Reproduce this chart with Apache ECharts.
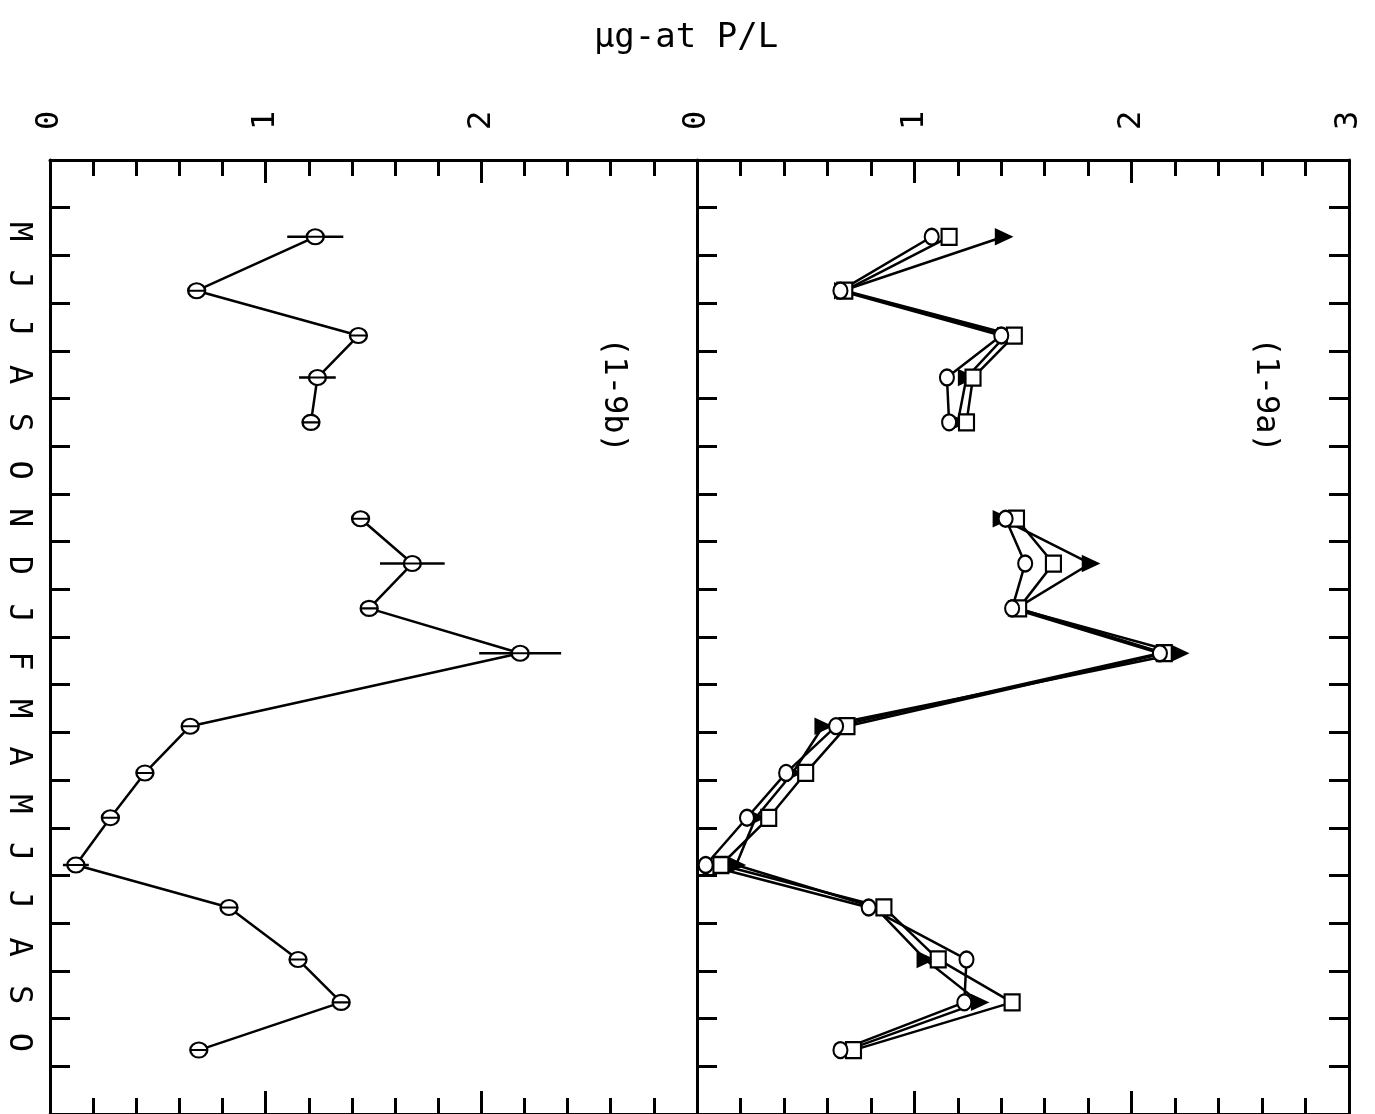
<!DOCTYPE html>
<html>
<head>
<meta charset="utf-8">
<script src="https://cdn.jsdelivr.net/npm/echarts@6/dist/echarts.min.js"></script>
<style>
  html, body { margin: 0; padding: 0; background: #fff; }
  #main { width: 1375px; height: 1114px; }
</style>
</head>
<body>
<div id="main"></div>
<script>
// month slots down the axis (blank slot at each end)
var monthLabels = ['', 'M', 'J', 'J', 'A', 'S', 'O', 'N', 'D', 'J', 'F', 'M', 'A', 'M', 'J', 'J', 'A', 'S', 'O', ''];
// sampling dates, in month slots from the top edge (null = no sample)
var sampleTime = [1.61, 2.74, 3.68, 4.56, 5.50, null, 7.52, 8.46, 9.40, 10.34, 11.87, 12.85, 13.79, 14.78, 15.67, 16.76, 17.66, 18.66];

// (1-9b) mean with error bar half-width
var meanB  = [1.23, 0.68, 1.43, 1.24, 1.21, null, 1.44, 1.68, 1.48, 2.18, 0.65, 0.44, 0.28, 0.12, 0.83, 1.15, 1.35, 0.69];
var errorB = [0.13, 0, 0, 0.085, 0, null, 0, 0.15, 0, 0.19, 0, 0, 0, 0.06, 0, 0, 0, 0];

// (1-9a) three stations
var circleA   = [1.08, 0.66, 1.40, 1.15, 1.16, null, 1.42, 1.51, 1.45, 2.13, 0.64, 0.41, 0.23, 0.04, 0.79, 1.24, 1.23, 0.66];
var squareA   = [1.16, 0.68, 1.46, 1.27, 1.24, null, 1.47, 1.64, 1.48, 2.15, 0.69, 0.50, 0.33, 0.11, 0.86, 1.11, 1.45, 0.72];
var triangleA = [1.41, 0.67, 1.42, 1.24, 1.20, null, 1.40, 1.81, 1.47, 2.22, 0.58, 0.44, 0.27, 0.18, 0.82, 1.05, 1.30, 0.69];

var FONT = 'DejaVu Sans Mono';
var chartDom = document.getElementById('main');
var myChart = echarts.init(chartDom, null, { renderer: 'canvas' });

function pairs(vals) {
    return vals.map(function (v, i) {
        return v == null ? ['-', '-'] : [v, sampleTime[i]];
    });
}

var thetaPath = 'path://M0,9A10,9 0 1,0 20,9A10,9 0 1,0 0,9ZM0,9L20,9';

function valueAxis(grid, pos, showLabel, hideMax) {
    return {
        gridIndex: grid, type: 'value', min: 0, max: 3, interval: 1, position: pos,
        axisLine: { show: true, onZero: false, lineStyle: { color: '#000', width: 3 } },
        axisTick: { show: true, inside: true, length: 23, lineStyle: { color: '#000', width: 3 } },
        minorTick: { show: true, splitNumber: 5, length: 16, lineStyle: { color: '#000', width: 3 } },
        splitLine: { show: false },
        axisLabel: {
            show: showLabel, rotate: -90, margin: 30, fontSize: 32, fontFamily: FONT, color: '#000',
            formatter: function (v) { return (hideMax && v === 3) ? '' : String(v); }
        }
    };
}

function timeAxis(grid, pos) {
    return {
        gridIndex: grid, type: 'value', inverse: true, min: 0, max: 20, interval: 1, position: pos,
        axisLine: { show: true, onZero: false, lineStyle: { color: '#000', width: 3 } },
        axisTick: { show: true, inside: true, length: 20, lineStyle: { color: '#000', width: 3 } },
        splitLine: { show: false },
        axisLabel: { show: false }
    };
}

function lineSeries(name, vals, xi, yi, symbol, size, fill, rotate) {
    return {
        name: name, type: 'line', xAxisIndex: xi, yAxisIndex: yi,
        data: pairs(vals),
        symbol: symbol, symbolSize: size, symbolRotate: rotate || 0,
        showAllSymbol: true,
        lineStyle: { color: '#000', width: 2.5 },
        itemStyle: { color: fill, borderColor: '#000', borderWidth: 2.2 },
        z: 3
    };
}

var errData = [];
meanB.forEach(function (v, i) {
    if (v != null && errorB[i] > 0) errData.push([v, sampleTime[i], errorB[i]]);
});

var option = {
    animation: false,
    backgroundColor: '#fff',
    grid: [
        { left: 50, top: 160, width: 647, height: 957 },
        { left: 697, top: 160, width: 652, height: 957 }
    ],
    xAxis: [
        valueAxis(0, 'top', true, true),
        valueAxis(0, 'bottom', false, false),
        valueAxis(1, 'top', true, false),
        valueAxis(1, 'bottom', false, false)
    ],
    yAxis: [
        timeAxis(0, 'left'),
        {
            gridIndex: 0, type: 'category', inverse: true, data: monthLabels, position: 'left',
            axisLine: { show: false }, axisTick: { show: false },
            axisLabel: { rotate: -90, margin: 16, fontSize: 32, fontFamily: FONT, color: '#000', interval: 0 }
        },
        timeAxis(1, 'left'),
        timeAxis(1, 'right')
    ],
    graphic: [
        {
            type: 'text', x: 686, y: 38,
            style: { text: 'µg-at P/L', font: '34px "DejaVu Sans Mono"', fill: '#000', align: 'center', verticalAlign: 'middle' }
        },
        {
            type: 'text', x: 613, y: 395, rotation: -Math.PI / 2,
            style: { text: '(1-9b)', font: '32px "DejaVu Sans Mono"', fill: '#000', align: 'center', verticalAlign: 'middle' }
        },
        {
            type: 'text', x: 1265, y: 395, rotation: -Math.PI / 2,
            style: { text: '(1-9a)', font: '32px "DejaVu Sans Mono"', fill: '#000', align: 'center', verticalAlign: 'middle' }
        }
    ],
    series: [
        {
            name: 'error', type: 'custom', xAxisIndex: 0, yAxisIndex: 0,
            data: errData,
            encode: { x: 0, y: 1 },
            renderItem: function (params, api) {
                var x = api.value(0), t = api.value(1), e = api.value(2);
                var p1 = api.coord([x - e, t]);
                var p2 = api.coord([x + e, t]);
                return {
                    type: 'line',
                    shape: { x1: p1[0], y1: p1[1], x2: p2[0], y2: p2[1] },
                    style: { stroke: '#000', lineWidth: 2.5 }
                };
            },
            z: 2
        },
        lineSeries('1-9b', meanB, 0, 0, thetaPath, [17, 15], '#fff'),
        lineSeries('triangle', triangleA, 2, 2, 'triangle', [14, 15], '#000', -90),
        lineSeries('square', squareA, 2, 2, 'rect', [15, 16], '#fff'),
        lineSeries('circle', circleA, 2, 2, 'circle', [14, 16], '#fff')
    ]
};

option && myChart.setOption(option);
</script>
</body>
</html>
